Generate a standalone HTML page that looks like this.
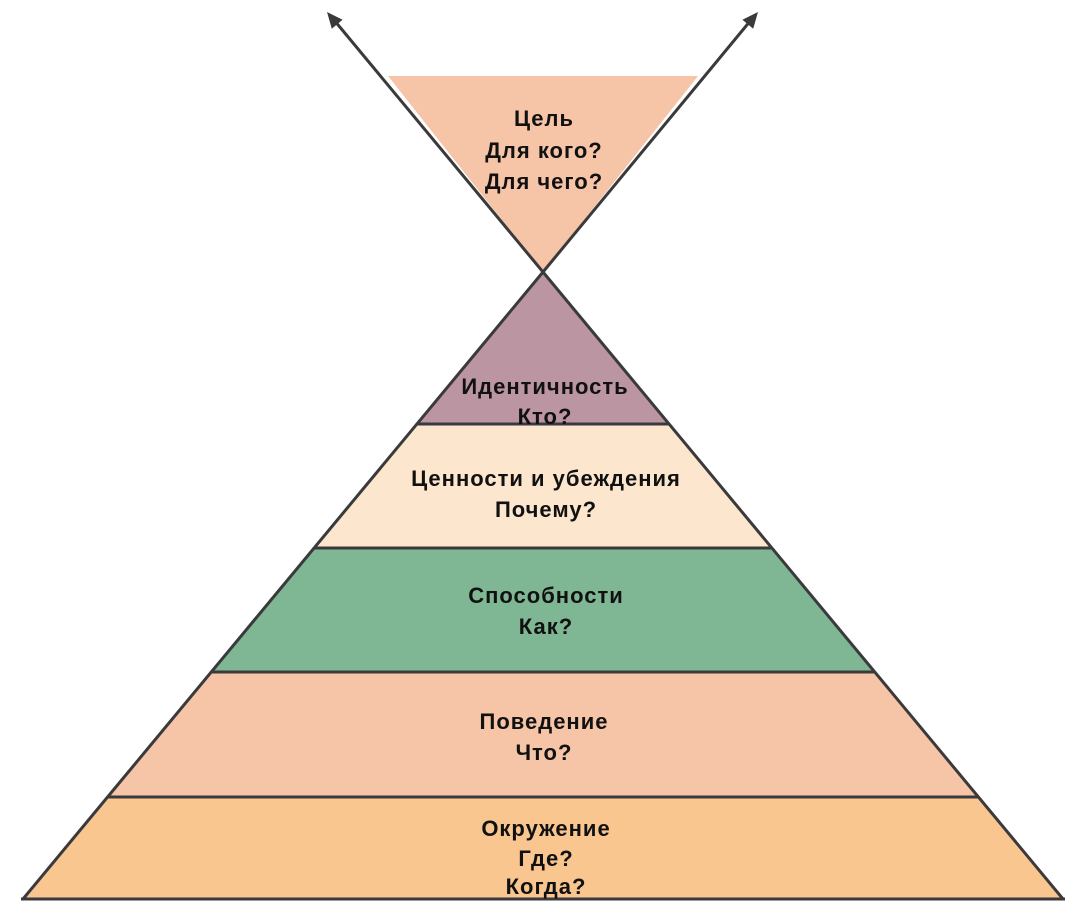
<!DOCTYPE html>
<html><head><meta charset="utf-8"><style>
html,body{margin:0;padding:0;background:#fff;}
svg{display:block;}
text{font-family:"Liberation Sans","DejaVu Sans",sans-serif;font-weight:bold;font-size:22px;letter-spacing:1px;fill:#111;text-anchor:middle;}
</style></head><body>
<svg width="1080" height="924" viewBox="0 0 1080 924">
<polygon points="388,76 698,76 543,272" fill="#f6c4a6"/>
<polygon points="543,272 417,424 669,424" fill="#bc95a2"/>
<polygon points="417,424 669,424 772,548 314,548" fill="#fce6cd"/>
<polygon points="314,548 772,548 875,672 211,672" fill="#7fb693"/>
<polygon points="211,672 875,672 979,797 107,797" fill="#f6c4a6"/>
<polygon points="107,797 979,797 1063,899 23,899" fill="#fac68f"/>
<g stroke="#3a3a3c" stroke-width="3" fill="none">
<line x1="417" y1="424" x2="669" y2="424"/>
<line x1="314" y1="548" x2="772" y2="548"/>
<line x1="211" y1="672" x2="875" y2="672"/>
<line x1="107" y1="797" x2="979" y2="797"/>
<line x1="21" y1="899" x2="1065" y2="899"/>
<line x1="23" y1="899" x2="543" y2="272"/>
<line x1="543" y1="272" x2="334" y2="20"/>
<line x1="1063" y1="899" x2="543" y2="272"/>
<line x1="543" y1="272" x2="751" y2="20"/>
</g>
<polygon points="327,12 342.6,19.8 331.8,28.8" fill="#3a3a3c"/>
<polygon points="758,12 753.2,28.8 742.4,19.8" fill="#3a3a3c"/>
<text x="544" y="126">Цель</text>
<text x="544" y="158">Для кого?</text>
<text x="544" y="189">Для чего?</text>
<text x="545" y="394">Идентичность</text>
<text x="545" y="424">Кто?</text>
<text x="546" y="486">Ценности и убеждения</text>
<text x="546" y="517">Почему?</text>
<text x="546" y="603">Способности</text>
<text x="546" y="634">Как?</text>
<text x="544" y="729">Поведение</text>
<text x="544" y="760">Что?</text>
<text x="546" y="836">Окружение</text>
<text x="546" y="866">Где?</text>
<text x="546" y="894">Когда?</text>
</svg>
</body></html>
